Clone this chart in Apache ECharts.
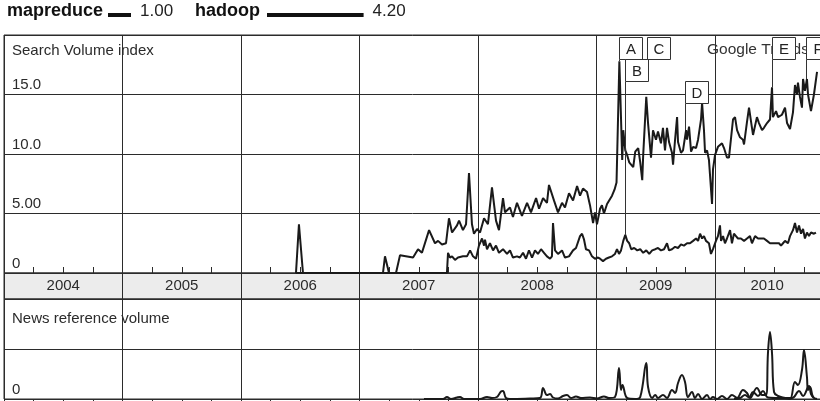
<!DOCTYPE html>
<html>
<head>
<meta charset="utf-8">
<script src="https://cdn.jsdelivr.net/npm/echarts@6/dist/echarts.min.js"></script>
<style>
  html, body { margin: 0; padding: 0; background: #fff; }
  #chart { width: 820px; height: 401px; }
</style>
</head>
<body>
<div id="chart"></div>
<script>
// Years shown on the band between the two panels
const years = [2004, 2005, 2006, 2007, 2008, 2009, 2010];
const yearLabelPos = [2004.5, 2005.5, 2006.5, 2007.5, 2008.5, 2009.5, 2010.44];
// Search volume tick labels
const searchTickLabels = { 0: '0', 5: '5.00', 10: '10.0', 15: '15.0' };
const newsTickLabels = { 0: '0' };

// Legend: term names and their average volume
const legendNames = ['mapreduce', 'hadoop'];
const legendAverages = [1.00, 4.20];

// Search volume index, [decimal year, value]
const hadoop = [
  [2006.464,0],[2006.489,4.1],[2006.523,0],[2007.198,0],[2007.215,1.4],[2007.249,0],[2007.308,0],[2007.342,1.5],
  [2007.452,1.3],[2007.494,2.0],[2007.527,1.7],[2007.587,3.6],[2007.637,2.5],[2007.663,2.7],[2007.696,2.4],[2007.730,2.5],
  [2007.755,4.6],[2007.781,3.4],[2007.823,4.0],[2007.840,4.4],[2007.873,3.6],[2007.899,4.1],[2007.924,8.4],[2007.949,4.1],
  [2007.966,3.3],[2007.992,3.7],[2008.017,3.4],[2008.051,4.6],[2008.084,4.1],[2008.118,7.2],[2008.152,4.4],[2008.177,3.6],
  [2008.211,6.3],[2008.228,5.1],[2008.270,5.5],[2008.295,4.7],[2008.329,5.9],[2008.371,4.8],[2008.414,5.9],[2008.447,5.1],
  [2008.490,6.3],[2008.515,5.4],[2008.549,6.3],[2008.582,5.9],[2008.599,7.4],[2008.641,6.1],[2008.675,5.1],[2008.709,5.9],
  [2008.734,5.5],[2008.768,6.7],[2008.802,6.1],[2008.836,7.3],[2008.861,6.5],[2008.886,7.1],[2008.920,6.8],[2008.945,5.7],
  [2008.971,4.2],[2008.987,5.1],[2009.004,4.1],[2009.030,5.4],[2009.046,5.7],[2009.063,5.0],[2009.089,5.8],[2009.131,6.5],
  [2009.152,7.0],[2009.169,7.6],[2009.193,17.8],[2009.217,9.5],[2009.226,12.0],[2009.243,10.3],[2009.259,9.9],[2009.276,9.3],
  [2009.310,8.9],[2009.327,10.2],[2009.352,10.5],[2009.369,9.3],[2009.386,7.8],[2009.394,9.9],[2009.420,14.8],[2009.435,12.6],
  [2009.460,9.7],[2009.477,12.0],[2009.502,11.2],[2009.519,11.9],[2009.544,10.9],[2009.561,12.2],[2009.578,10.3],[2009.595,12.2],
  [2009.612,11.0],[2009.637,10.1],[2009.646,9.1],[2009.663,11.2],[2009.680,13.1],[2009.688,11.0],[2009.713,10.1],[2009.730,10.3],
  [2009.756,12.0],[2009.764,11.2],[2009.781,12.3],[2009.798,10.2],[2009.815,10.6],[2009.840,10.5],[2009.857,11.2],[2009.882,12.9],
  [2009.891,14.3],[2009.907,12.0],[2009.916,10.1],[2009.933,10.3],[2009.949,9.5],[2009.975,5.8],[2009.983,8.7],[2010.000,9.9],
  [2010.025,10.6],[2010.059,10.9],[2010.076,10.5],[2010.101,9.7],[2010.118,9.7],[2010.152,12.9],[2010.169,13.1],[2010.186,12.0],
  [2010.211,11.4],[2010.236,11.2],[2010.245,10.8],[2010.270,12.7],[2010.287,13.9],[2010.312,12.2],[2010.321,11.6],[2010.354,13.1],
  [2010.371,12.6],[2010.397,12.0],[2010.413,12.2],[2010.439,12.6],[2010.464,12.9],[2010.481,15.6],[2010.489,13.1],[2010.515,13.6],
  [2010.532,13.1],[2010.565,13.3],[2010.591,13.9],[2010.608,12.6],[2010.633,12.1],[2010.658,13.5],[2010.675,15.8],[2010.692,15.0],
  [2010.700,16.0],[2010.717,14.8],[2010.734,13.9],[2010.743,16.3],[2010.759,15.3],[2010.776,16.3],[2010.785,15.0],[2010.810,13.6],
  [2010.819,13.5],[2010.835,15.0],[2010.861,16.9]
];

const mapreduce = [
  [2006.464,0],[2007.738,0],[2007.747,1.7],[2007.764,1.3],[2007.781,1.4],[2007.806,1.1],[2007.831,1.3],[2007.873,1.4],
  [2007.907,1.4],[2007.933,1.9],[2007.958,1.4],[2007.983,1.2],[2008.008,2.3],[2008.034,2.9],[2008.051,2.3],[2008.059,2.8],
  [2008.076,2.0],[2008.101,2.5],[2008.127,1.9],[2008.152,2.3],[2008.177,1.7],[2008.211,2.0],[2008.245,1.6],[2008.270,1.9],
  [2008.295,1.3],[2008.329,1.4],[2008.354,1.3],[2008.380,1.7],[2008.405,1.2],[2008.430,1.9],[2008.456,1.3],[2008.481,1.9],
  [2008.506,1.6],[2008.532,2.0],[2008.557,1.7],[2008.582,1.4],[2008.608,1.2],[2008.624,1.4],[2008.633,4.2],[2008.650,1.9],
  [2008.675,1.6],[2008.709,1.9],[2008.734,1.3],[2008.768,1.4],[2008.802,1.9],[2008.827,2.1],[2008.861,3.1],[2008.878,3.3],
  [2008.895,2.8],[2008.911,2.0],[2008.937,1.9],[2008.962,1.4],[2008.987,1.2],[2009.013,1.3],[2009.030,1.2],[2009.055,1.0],
  [2009.080,1.2],[2009.105,1.3],[2009.131,1.4],[2009.156,1.6],[2009.173,2.0],[2009.190,1.6],[2009.207,1.9],[2009.226,2.7],
  [2009.243,3.2],[2009.259,2.7],[2009.276,2.5],[2009.293,2.0],[2009.318,2.1],[2009.344,1.9],[2009.369,2.0],[2009.394,1.7],
  [2009.420,1.9],[2009.445,1.6],[2009.470,1.9],[2009.496,2.0],[2009.519,2.1],[2009.544,1.9],[2009.570,2.0],[2009.595,2.5],
  [2009.612,1.9],[2009.637,2.0],[2009.663,2.2],[2009.688,2.1],[2009.713,2.4],[2009.738,2.3],[2009.764,2.5],[2009.789,2.5],
  [2009.815,2.7],[2009.840,2.9],[2009.857,2.7],[2009.874,3.3],[2009.891,2.9],[2009.907,3.1],[2009.924,2.7],[2009.949,2.5],
  [2009.966,1.6],[2009.983,2.0],[2010.008,2.7],[2010.025,3.1],[2010.042,4.0],[2010.051,2.7],[2010.068,3.1],[2010.084,2.5],
  [2010.101,2.9],[2010.127,3.6],[2010.143,2.5],[2010.160,3.3],[2010.177,3.1],[2010.194,2.9],[2010.219,2.9],[2010.245,2.7],
  [2010.270,2.9],[2010.295,3.1],[2010.312,2.5],[2010.338,3.1],[2010.363,2.9],[2010.388,2.9],[2010.413,2.9],[2010.439,2.7],
  [2010.464,2.5],[2010.515,2.5],[2010.540,2.5],[2010.557,2.3],[2010.574,2.5],[2010.591,2.7],[2010.616,2.5],[2010.633,3.1],
  [2010.658,3.6],[2010.675,4.2],[2010.692,3.4],[2010.709,4.0],[2010.726,3.3],[2010.743,3.7],[2010.759,2.9],[2010.776,3.4],
  [2010.793,3.1],[2010.810,3.4],[2010.835,3.3],[2010.852,3.4]
];

// News reference volume, [decimal year, value]
const hadoopNews = [
  [2007.544,0],[2007.705,0],[2007.738,0.04],[2007.772,0],[2007.823,0.03],[2007.848,0.04],[2007.882,0],[2008.017,0],
  [2008.076,0.04],[2008.118,0.02],[2008.160,0.04],[2008.194,0.15],[2008.211,0.16],[2008.236,0.02],[2008.270,0],[2008.439,0.01],
  [2008.523,0.02],[2008.549,0.22],[2008.582,0.08],[2008.608,0.1],[2008.633,0.03],[2008.675,0.01],[2008.717,0.06],[2008.751,0.08],
  [2008.785,0.02],[2008.827,0.05],[2008.869,0.02],[2008.945,0.03],[2009.004,0.01],[2009.063,0.05],[2009.105,0.02],[2009.156,0.04],
  [2009.190,0.62],[2009.207,0.18],[2009.219,0.28],[2009.259,0.02],[2009.327,0],[2009.369,0.04],[2009.420,0.72],[2009.435,0.24],
  [2009.470,0.02],[2009.496,0.08],[2009.519,0.02],[2009.561,0.08],[2009.595,0.02],[2009.637,0.18],[2009.663,0.12],[2009.688,0.32],
  [2009.721,0.48],[2009.747,0.34],[2009.772,0.04],[2009.806,0.14],[2009.831,0.02],[2009.857,0.10],[2009.891,0],[2009.933,0.08],
  [2009.958,0],[2009.983,0.04],[2010.017,0],[2010.059,0.06],[2010.101,0],[2010.143,0.08],[2010.186,0.02],[2010.236,0.18],
  [2010.270,0.12],[2010.295,0.02],[2010.354,0.22],[2010.397,0.08],[2010.430,0.08],[2010.447,0.92],[2010.464,1.34],[2010.481,0.92],
  [2010.498,0.14],[2010.532,0.06],[2010.591,0.02],[2010.633,0],[2010.675,0.34],[2010.700,0.28],[2010.734,0.58],[2010.751,0.98],
  [2010.776,0.44],[2010.785,0.18],[2010.802,0.24],[2010.827,0.04],[2010.861,0]
];
const mapreduceNews = [
  [2010.160,0],[2010.211,0.02],[2010.253,0.08],[2010.287,0.03],[2010.321,0.14],[2010.363,0.06],[2010.405,0.16],[2010.447,0.03],
  [2010.540,0.02],[2010.650,0.02],[2010.709,0.16],[2010.743,0.06],[2010.793,0.26],[2010.810,0.1],[2010.835,0.02]
];

// Annotated events: letter, [decimal year, value] of the marked point, row of the label box
const noteLetters = ['A', 'B', 'C', 'D', 'E', 'F'];
const notePoints = [[2009.193, 17.8], [2009.243, 3.2], [2009.427, null], [2009.747, 12.0], [2010.481, 15.6], [2010.768, 16.3]];
const noteRows = [0, 1, 0, 2, 0, 0];

const FONT = '"Liberation Sans", Arial, Helvetica, sans-serif';
const INK = '#2b2b2b';
const X_MIN = 2004, X_MAX = 2011;
const PX_PER_YEAR = 118.5;
const GRID_W = (X_MAX - X_MIN) * PX_PER_YEAR;

const chart = echarts.init(document.getElementById('chart'), null, { renderer: 'canvas' });

const gridLine = { show: true, lineStyle: { color: INK, width: 1 } };
const gridBase = { left: 4, width: GRID_W, show: true, borderColor: INK, borderWidth: 1, outerBoundsMode: 'none', containLabel: false };

const option = {
  animation: false,
  backgroundColor: '#fff',
  textStyle: { fontFamily: FONT },
  grid: [
    Object.assign({}, gridBase, { top: 35, height: 238 }),
    Object.assign({}, gridBase, { top: 273, height: 26, backgroundColor: '#ececec' }),
    Object.assign({}, gridBase, { top: 299, height: 100 })
  ],
  xAxis: [
    {
      gridIndex: 0, type: 'value', min: X_MIN, max: X_MAX, interval: 1, position: 'bottom',
      axisLine: { show: false },
      axisTick: { show: true, inside: true, length: 6, lineStyle: { color: INK } },
      minorTick: { show: true, splitNumber: 4, length: 6, lineStyle: { color: INK, width: 1 } },
      axisLabel: { show: false },
      splitLine: gridLine
    },
    {
      gridIndex: 1, type: 'value', min: X_MIN, max: X_MAX, interval: 1, position: 'top',
      axisLine: { show: false }, axisTick: { show: false }, axisLabel: { show: false },
      splitLine: gridLine
    },
    {
      gridIndex: 1, type: 'value', min: X_MIN, max: X_MAX, position: 'top',
      axisLine: { show: false }, axisTick: { show: false }, splitLine: { show: false },
      axisLabel: {
        show: true, inside: true, customValues: yearLabelPos, margin: 13,
        verticalAlign: 'middle', fontSize: 15, color: INK, fontFamily: FONT,
        formatter: v => String(Math.floor(v))
      }
    },
    {
      gridIndex: 2, type: 'value', min: X_MIN, max: X_MAX, interval: 1, position: 'top',
      axisLine: { show: false },
      axisTick: { show: true, inside: true, length: 6, lineStyle: { color: INK } },
      minorTick: { show: true, splitNumber: 4, length: 6, lineStyle: { color: INK, width: 1 } },
      axisLabel: { show: false },
      splitLine: gridLine
    }
  ],
  yAxis: [
    {
      gridIndex: 0, type: 'value', min: 0, max: 20, interval: 5,
      axisLine: { show: false }, axisTick: { show: false },
      splitLine: gridLine,
      axisLabel: {
        inside: true, margin: 8, align: 'left', verticalAlign: 'bottom', padding: [0, 0, 2, 0],
        fontSize: 15, color: INK, fontFamily: FONT,
        formatter: v => searchTickLabels[v] || ''
      }
    },
    { gridIndex: 1, type: 'value', show: false, min: 0, max: 1 },
    {
      gridIndex: 2, type: 'value', min: 0, max: 2, interval: 1,
      axisLine: { show: false }, axisTick: { show: false },
      splitLine: gridLine,
      axisLabel: {
        inside: true, margin: 8, align: 'left', verticalAlign: 'bottom', padding: [0, 0, 2, 0],
        fontSize: 15, color: INK, fontFamily: FONT,
        formatter: v => newsTickLabels[v] || ''
      }
    }
  ],
  series: [
    { name: 'mapreduce', type: 'line', xAxisIndex: 0, yAxisIndex: 0, data: mapreduce, showSymbol: false, clip: false,
      lineStyle: { color: '#1a1a1a', width: 2 }, z: 5 },
    { name: 'hadoop', type: 'line', xAxisIndex: 0, yAxisIndex: 0, data: hadoop, showSymbol: false, clip: false,
      lineStyle: { color: '#1a1a1a', width: 2 }, z: 5 },
    { name: 'mapreduce news', type: 'line', xAxisIndex: 3, yAxisIndex: 2, data: mapreduceNews, showSymbol: false, smooth: 0.4,
      lineStyle: { color: '#1a1a1a', width: 2 }, z: 5 },
    { name: 'hadoop news', type: 'line', xAxisIndex: 3, yAxisIndex: 2, data: hadoopNews, showSymbol: false, smooth: 0.4,
      lineStyle: { color: '#1a1a1a', width: 2 }, z: 5 }
  ]
};
chart.setOption(option);

// Legend, panel captions and event markers, placed with the chart's own scales
function buildGraphics() {
  const g = [];
  // Legend row
  const unit = 23; // pixels per unit of average volume
  const legendLayout = [
    { nameX: 7, lineX: 108 },
    { nameX: 195, lineX: 267 }
  ];
  legendNames.forEach((name, i) => {
    const L = legendLayout[i];
    const lineW = legendAverages[i] * unit;
    g.push({ type: 'text', left: L.nameX, top: 2, style: { text: name, font: 'bold 18px ' + FONT, fill: '#111' } });
    g.push({ type: 'rect', shape: { x: L.lineX, y: 13, width: lineW, height: 4 }, style: { fill: '#111' } });
    g.push({ type: 'text', left: L.lineX + lineW + 9, top: 3, style: { text: legendAverages[i].toFixed(2), font: '17px ' + FONT, fill: '#222' } });
  });
  // Panel captions
  g.push({ type: 'text', left: 12, top: 43, style: { text: 'Search Volume index', font: '15px ' + FONT, fill: INK } });
  g.push({ type: 'text', left: 12, top: 311, style: { text: 'News reference volume', font: '15px ' + FONT, fill: INK } });
  g.push({ type: 'text', left: 707, top: 42, z: 10, style: { text: 'Google Trends', font: '15.5px ' + FONT, fill: '#333' } });

  // Event markers: box above the point, with a leader line down to it
  const rowTop = [37, 59, 81];
  const boxW = 23, boxH = 22;
  noteLetters.forEach((letter, i) => {
    const [t, v] = notePoints[i];
    const p = chart.convertToPixel({ gridIndex: 0 }, [t, v == null ? 0 : v]);
    const bx = Math.round(p[0]) + 0.5;
    const by = rowTop[noteRows[i]] + 0.5;
    if (v != null && p[1] > by + boxH) {
      g.push({ type: 'line', z: 20, shape: { x1: bx, y1: by + boxH, x2: bx, y2: p[1] },
        style: { stroke: '#333', lineWidth: 1 } });
    }
    g.push({ type: 'rect', z: 21, shape: { x: bx, y: by, width: boxW, height: boxH },
      style: { fill: '#fff', stroke: '#333', lineWidth: 1 } });
    g.push({ type: 'text', z: 22, x: bx + boxW / 2, y: by + boxH / 2 + 1,
      style: { text: letter, font: '15px ' + FONT, fill: '#222', align: 'center', verticalAlign: 'middle' } });
  });
  return g;
}
chart.setOption({ graphic: { elements: buildGraphics() } });
</script>
</body>
</html>
